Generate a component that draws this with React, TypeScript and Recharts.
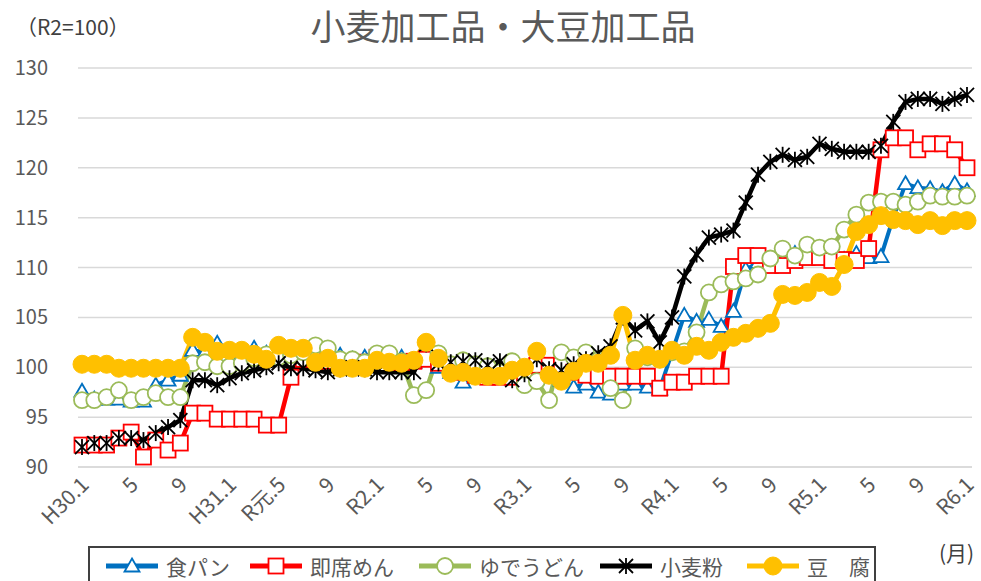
import React from 'react';
import { LineChart, Line, XAxis, YAxis, CartesianGrid } from 'recharts';

const months = [
  'H30.1','2','3','4','5','6','7','8','9','10','11','12',
  'H31.1','2','3','4','R元.5','6','7','8','9','10','11','12',
  'R2.1','2','3','4','5','6','7','8','9','10','11','12',
  'R3.1','2','3','4','5','6','7','8','9','10','11','12',
  'R4.1','2','3','4','5','6','7','8','9','10','11','12',
  'R5.1','2','3','4','5','6','7','8','9','10','11','12',
  'R6.1',
];

const shokupan = [
  97.6, 96.8, 96.8, 96.8, 96.6, 96.6, 98.2, 98.7, 99.2, 101.7, 101.5, 102.4,
  101.6, 101.3, 101.9, 101.4, 101.0, 101.5, 101.0, 100.8, 100.5, 101.2, 100.8, 101.0,
  100.8, 101.3, 101.0, 100.5, 101.8, 100.0, 99.5, 98.5, 99.0, 99.2, 99.2, 99.0,
  99.2, 100.0, 99.3, 98.7, 98.0, 98.3, 97.5, 97.3, 98.3, 98.3, 98.0, 97.8,
  101.5, 105.2, 104.6, 104.8, 104.1, 105.6, 109.8, 110.5, 110.5, 111.0, 111.4, 111.8,
  111.4, 111.0, 110.8, 111.4, 111.0, 111.1, 115.0, 118.4, 118.0, 117.9, 117.6, 118.4,
  117.7,
];

const sokusekimen = [
  92.2, 92.2, 92.2, 92.9, 93.5, 91.0, 92.7, 91.7, 92.4, 95.4, 95.4, 94.8,
  94.8, 94.8, 94.8, 94.2, 94.2, 99.0, 100.8, 100.8, 100.6, 100.5, 100.5, 100.5,
  101.0, 100.8, 100.5, 100.6, 100.8, 100.4, 100.0, 99.5, 99.2, 99.0, 99.0, 99.0,
  99.3, 100.2, 100.2, 100.2, 99.5, 99.2, 99.1, 99.1, 99.1, 99.1, 99.1, 97.9,
  98.5, 98.5, 99.1, 99.1, 99.1, 110.1, 111.2, 111.2, 110.2, 110.2, 110.7, 111.0,
  111.0, 110.7, 110.8, 110.7, 111.9, 121.8, 123.0, 123.0, 121.8, 122.4, 122.4, 121.8,
  120.0,
];

const yudeudon = [
  96.7, 96.7, 97.0, 97.7, 96.7, 97.0, 97.4, 97.0, 97.0, 100.4, 100.5, 100.1,
  100.1, 100.4, 100.9, 101.3, 101.0, 101.2, 101.5, 102.2, 101.9, 100.8, 100.8, 100.5,
  101.4, 101.4, 100.6, 97.2, 97.7, 101.4, 100.3, 100.7, 100.3, 100.1, 99.5, 100.6,
  98.2, 98.6, 96.7, 101.5, 101.0, 101.5, 100.7, 97.9, 96.7, 101.9, 101.0, 100.8,
  101.5, 101.6, 103.5, 107.5, 108.3, 108.6, 108.9, 109.3, 110.9, 111.9, 111.2, 112.3,
  112.0, 112.1, 113.8, 115.3, 116.5, 116.6, 116.6, 116.3, 116.6, 117.2, 117.1, 117.1,
  117.2,
];

const komugiko = [
  92.0, 92.4, 92.4, 92.9, 92.9, 92.7, 93.4, 94.0, 94.7, 98.7, 98.7, 98.2,
  98.9, 99.4, 99.7, 100.0, 100.4, 99.9, 99.9, 99.7, 99.5, 99.8, 100.0, 99.8,
  99.5, 99.5, 99.5, 99.5, 102.3, 100.4, 100.5, 100.6, 100.7, 100.2, 100.6, 98.7,
  99.3, 100.8, 99.8, 99.7, 100.3, 100.8, 101.4, 102.1, 105.0, 103.7, 104.6, 102.5,
  105.0, 109.1, 111.3, 113.0, 113.3, 113.7, 116.5, 119.3, 120.6, 121.3, 120.8, 121.1,
  122.4, 121.9, 121.6, 121.6, 121.6, 122.2, 124.6, 126.6, 126.9, 126.9, 126.4, 126.9,
  127.3,
];

const tofu = [
  100.3, 100.3, 100.3, 99.9, 99.9, 99.9, 99.9, 99.9, 99.9, 103.0, 102.5, 101.6,
  101.7, 101.7, 101.3, 100.8, 102.2, 101.9, 101.9, 100.5, 100.9, 99.9, 99.9, 99.9,
  100.7, 100.5, 100.4, 100.7, 102.5, 100.9, 99.4, 99.5, 99.1, 99.1, 99.1, 99.7,
  100.0, 101.6, 99.2, 98.6, 99.6, 100.4, 100.4, 101.2, 105.2, 100.7, 101.2, 100.8,
  101.7, 101.2, 102.1, 101.7, 102.5, 103.0, 103.4, 103.9, 104.4, 107.3, 107.2, 107.5,
  108.5, 108.1, 110.3, 113.6, 114.3, 115.2, 114.8, 114.7, 114.3, 114.7, 114.2, 114.7,
  114.7,
];

const yTicks = [90, 95, 100, 105, 110, 115, 120, 125, 130];

const seriesNames = ['食パン', '即席めん', 'ゆでうどん', '小麦粉', '豆　腐'];
const seriesColors = ['#0070C0', '#FF0000', '#9BBB59', '#000000', '#FFC000'];

const data = months.map((m, i) => ({
  month: m,
  shokupan: shokupan[i],
  sokusekimen: sokusekimen[i],
  yudeudon: yudeudon[i],
  komugiko: komugiko[i],
  tofu: tofu[i],
}));

const FONT = '"Noto Sans CJK JP", "Noto Sans", sans-serif';
const TEXT = '#595959';

const triShape = (cx: number, cy: number, k?: string) => (
  <path key={k} d={`M${cx},${cy - 7.5} L${cx + 7.5},${cy + 5.5} L${cx - 7.5},${cy + 5.5} Z`}
    fill="#fff" stroke="#0070C0" strokeWidth={1.8} />
);
const sqShape = (cx: number, cy: number, k?: string) => (
  <rect key={k} x={cx - 7.5} y={cy - 7.5} width={15} height={15} fill="#fff" stroke="#FF0000" strokeWidth={1.8} />
);
const circShape = (cx: number, cy: number, k?: string) => (
  <circle key={k} cx={cx} cy={cy} r={8} fill="#fff" stroke="#9BBB59" strokeWidth={1.8} />
);
const starShape = (cx: number, cy: number, k?: string) => (
  <g key={k} stroke="#000" strokeWidth={1.8}>
    <line x1={cx} y1={cy - 8} x2={cx} y2={cy + 8} />
    <line x1={cx - 7} y1={cy - 7} x2={cx + 7} y2={cy + 7} />
    <line x1={cx - 7} y1={cy + 7} x2={cx + 7} y2={cy - 7} />
  </g>
);
const dotShape = (cx: number, cy: number, k?: string) => (
  <circle key={k} cx={cx} cy={cy} r={9} fill="#FFC000" stroke="#FFC000" strokeWidth={1} />
);

const shapes = [triShape, sqShape, circShape, starShape, dotShape];

const mkDot = (fn: (cx: number, cy: number, k?: string) => React.ReactElement, name: string) =>
  (p: any) => {
    if (p.cx == null || p.cy == null) return <g key={`${name}-${p.index}`} />;
    return fn(p.cx, p.cy, `${name}-${p.index}`);
  };

const XTick = (props: any) => {
  const { x, payload } = props;
  return (
    <g transform={`translate(${x + 3},${481}) rotate(-45)`}>
      <text x={0} y={0} dy="0.35em" textAnchor="end"
        fill={TEXT} fontSize={21} fontFamily={FONT}>{payload.value}</text>
    </g>
  );
};

const legendLeft = [104, 248, 417, 598, 745];

export default function App() {
  const keys = ['shokupan', 'sokusekimen', 'yudeudon', 'komugiko', 'tofu'];
  const widths = [4, 4.5, 4.5, 4.5, 5];
  return (
    <div style={{ position: 'fixed', left: 0, top: 0, width: 981, height: 581, background: '#fff', overflow: 'hidden', fontFamily: FONT }}>
      <LineChart width={981} height={581} data={data}
        margin={{ top: 68, right: 9, left: 0, bottom: 0 }}>
        <CartesianGrid horizontal vertical={false} stroke="#D9D9D9" strokeWidth={1.5} />
        <XAxis dataKey="month" interval={3} tick={<XTick />} tickLine={false}
          axisLine={{ stroke: '#D9D9D9', strokeWidth: 1.5 }} height={114}
          padding={{ left: 4, right: 5 }} />
        <YAxis domain={[90, 130]} ticks={yTicks} width={78} tickLine={false} axisLine={false}
          tickMargin={24} interval={0}
          tick={{ fill: TEXT, fontSize: 20, fontFamily: FONT }} />
        {keys.map((k, i) => (
          <Line key={k} type="linear" dataKey={k} stroke={seriesColors[i]} strokeWidth={widths[i]}
            dot={mkDot(shapes[i], k)} activeDot={false} isAnimationActive={false} />
        ))}
      </LineChart>
      <div style={{ position: 'absolute', left: 25, top: 0, width: 956, textAlign: 'center', fontSize: 35, color: TEXT, lineHeight: '50px' }}>
        小麦加工品・大豆加工品
      </div>
      <div style={{ position: 'absolute', left: 16, top: 11, fontSize: 21, color: '#404040', lineHeight: '30px' }}>
        （R2=100）
      </div>
      <div style={{ position: 'absolute', left: 939, top: 537, fontSize: 21, color: '#404040', lineHeight: '30px', whiteSpace: 'pre' }}>
        (月)
      </div>
      <div style={{ position: 'absolute', left: 88, top: 546, width: 788, height: 50, border: '2px solid #404040', boxSizing: 'border-box' }} />
      {seriesNames.map((n, i) => (
        <div key={n} style={{ position: 'absolute', left: legendLeft[i], top: 552, height: 28, display: 'flex', alignItems: 'center' }}>
          <svg width={56} height={24}>
            <line x1={2} y1={12} x2={54} y2={12} stroke={seriesColors[i]} strokeWidth={5} />
            {shapes[i](28, 12)}
          </svg>
          <span style={{ fontSize: 21, color: TEXT, marginLeft: 6, lineHeight: '28px', whiteSpace: 'pre' }}>{n}</span>
        </div>
      ))}
    </div>
  );
}
